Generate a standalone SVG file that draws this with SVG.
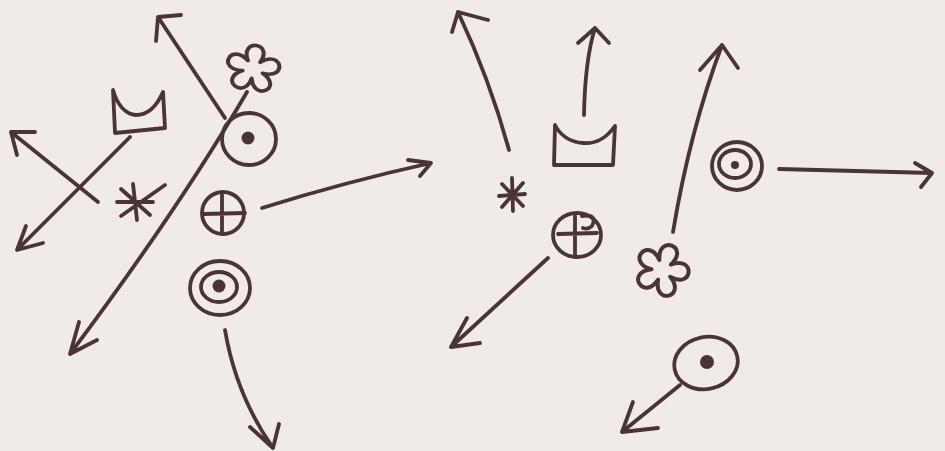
<svg xmlns="http://www.w3.org/2000/svg" width="945" height="451" viewBox="0 0 945 451">
  <defs>
    <style>
      .ink { fill: none; stroke: #4a3434; stroke-width: 3.8; stroke-linecap: round; stroke-linejoin: round; }
      .dot { fill: #4a3434; stroke: none; }
    </style>
    <path id="flower" d="M-5.88,-8.09 C-16.5,-31 16.5,-31 5.88,-8.09 C24.3,-25.2 34.5,6.1 9.51,3.09 C31.5,15.4 4.9,34.7 0,10 C-4.9,34.7 -31.5,15.4 -9.51,3.09 C-34.5,6.1 -24.3,-25.2 -5.88,-8.09 Z"/>
  </defs>
  <rect width="945" height="451" fill="#f0ebe8"/>

  <g id="connectors" class="ink">
    <path d="M225,118 L158,17 M181,15 L158,17 L156,41"/>
    <path d="M247,92 Q178,210 70,354 M79,322 L70,354 L97,340"/>
    <path d="M98,202 L11,132 M35,132 L11,132 L17,155"/>
    <path d="M130,137 L17,250 M26,226 L17,250 L43,243"/>
    <path d="M262,208 Q345,182 431,163 M408,160 L431,163 L420,176"/>
    <path d="M225,330 Q236,395 273,448 M250,427 L273,448 L279,424"/>
    <path d="M509,150 Q490,80 458,12 M488,20 L458,12 L452,32"/>
    <path d="M584,115 Q585,60 595,28 M578,43 L595,28 L609,43"/>
    <path d="M548,258 L451,347 M467,318 L451,347 L480,343"/>
    <path d="M673,232 Q690,130 722,45 M700,70 L722,45 L738,68"/>
    <path d="M779,169 L932,173 M915,163 L932,173 L921,187"/>
    <path d="M680,385 L622,432 M633,402 L622,432 L658,428"/>
  </g>

  <g id="flower-left" class="ink">
    <use href="#flower" transform="translate(253,69) rotate(8) scale(1.06,0.94)"/>
  </g>
  <g id="circle-dot-left" class="ink">
    <ellipse cx="249" cy="139" rx="27" ry="26"/>
    <circle class="dot" cx="248" cy="138" r="6.5"/>
  </g>
  <g id="cup-left" class="ink">
    <path d="M113,90 L115,133 L165,128 L163,92 C156,108 147,115 136,115 C125,114 117,104 113,90 Z"/>
  </g>
  <g id="asterisk-left" class="ink">
    <path d="M117,202 L153,202 M133,184 L137,220 M121,189 L150,215 M121,216 L165,185"/>
  </g>
  <g id="plus-left" class="ink">
    <circle cx="223" cy="213" r="21"/>
    <path d="M203,214 L245,213 M222,195 L222,233"/>
  </g>
  <g id="target-left" class="ink">
    <ellipse cx="220" cy="288" rx="30" ry="27"/>
    <ellipse cx="219" cy="287" rx="18" ry="15"/>
    <circle class="dot" cx="219" cy="286" r="6.5"/>
  </g>

  <g id="asterisk-right" class="ink">
    <path d="M499,196 L525,194 M512,178 L513,211 M502,184 L523,206 M502,207 L523,183"/>
  </g>
  <g id="cup-right" class="ink">
    <path d="M555,125 L554,165 L613,165 L615,126 C605,140 595,144 583,143 C570,142 560,135 555,125 Z"/>
  </g>
  <g id="plus-right" class="ink">
    <ellipse cx="577" cy="235" rx="24" ry="22"/>
    <path d="M558,234 L597,233 M575,216 L575,257 M582,216 Q598,214 592,226 Q588,230 583,228"/>
  </g>
  <g id="flower-right" class="ink">
    <use href="#flower" transform="translate(662,270) rotate(22) scale(1.06,1.04)"/>
  </g>
  <g id="target-right" class="ink">
    <ellipse cx="737" cy="166" rx="25" ry="24"/>
    <ellipse cx="735" cy="164" rx="16" ry="14"/>
    <circle class="dot" cx="735" cy="165" r="4"/>
  </g>
  <g id="circle-dot-right" class="ink">
    <ellipse cx="706" cy="363" rx="32" ry="26" transform="rotate(-12 706 363)"/>
    <circle class="dot" cx="707" cy="362" r="7"/>
  </g>
</svg>
